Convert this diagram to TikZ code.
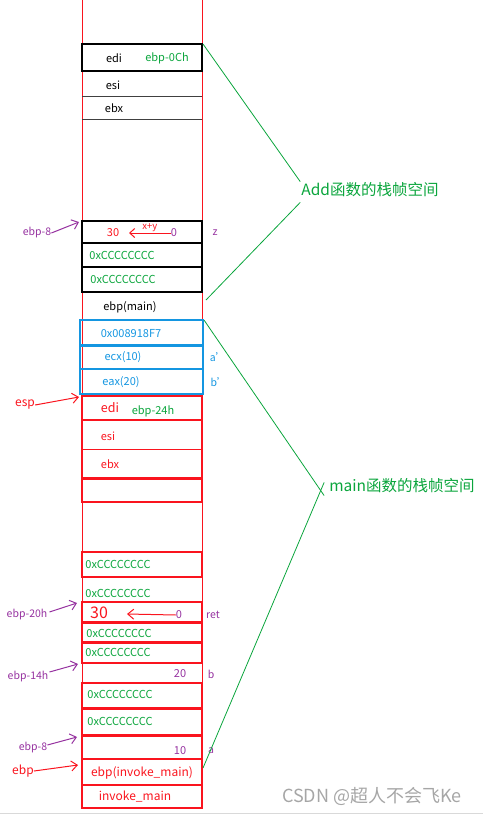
\documentclass[tikz,border=0pt]{standalone}
\usepackage{fontspec}
\setmainfont{Noto Sans CJK SC}
\usetikzlibrary{arrows.meta}
\definecolor{stkred}{RGB}{250,20,30}
\definecolor{stkgreen}{RGB}{10,165,60}
\definecolor{stkblue}{RGB}{20,150,225}
\definecolor{stkpurple}{RGB}{150,50,160}
\tikzset{
  cellblack/.style={draw=black, line width=1.3pt},
  cellred/.style={draw=stkred, line width=1.3pt},
  cellblue/.style={draw=stkblue, line width=1.3pt},
  reg/.style={font=\fontsize{11}{13}\selectfont, inner sep=0pt},
  side/.style={font=\fontsize{10.5}{12}\selectfont, inner sep=0pt, text=stkpurple},
  ptr/.style={-{Straight Barb[length=6pt,width=10pt]}, line width=1pt},
  brace/.style={stkgreen, line width=0.8pt},
  frame/.style={font=\fontsize{15.5}{18}\selectfont, text=stkgreen, inner sep=1pt},
}
\begin{document}
\begin{tikzpicture}[x=1pt,y=-1pt]
  %%%%% START %%%%%
  \useasboundingbox (0,0) rectangle (483,815);
  \def\xl{82}
  \def\xr{202}

  % stack column
  \draw[stkred, line width=1pt] (\xl,0) -- (\xl,808);
  \draw[stkred, line width=1pt] (\xr,0) -- (\xr,808);

  % Add frame
  \draw[cellblack] (\xl,44) rectangle (\xr,71);
  \draw[black!75, line width=1pt] (\xl,96) -- (\xr,96);
  \draw[black!75, line width=1pt] (\xl,119) -- (\xr,119);
  \draw[cellblack] (\xl,221) rectangle (\xr,243);
  \draw[cellblack] (\xl,243) rectangle (\xr,267);
  \draw[cellblack] (\xl,267) rectangle (\xr,292);
  \draw[stkblue, line width=1.3pt] (80,320) rectangle (203,345);
  \draw[cellblue] (80,346) rectangle (203,369);
  \draw[cellblue] (80,369) rectangle (203,394);

  % main frame
  \draw[cellred] (\xl,396) rectangle (\xr,420);
  \draw[cellred] (\xl,420) rectangle (\xr,478);
  \draw[stkred, line width=1pt] (\xl,449) -- (\xr,449);
  \draw[cellred] (\xl,479) rectangle (\xr,502);
  \draw[cellred] (\xl,552) rectangle (\xr,577);
  \draw[cellred] (\xl,602) rectangle (\xr,622);
  \draw[cellred] (\xl,623) rectangle (\xr,642);
  \draw[cellred] (\xl,643) rectangle (\xr,663);
  \draw[cellred] (\xl,683) rectangle (\xr,708);
  \draw[cellred] (\xl,709) rectangle (\xr,735);
  \draw[cellred] (\xl,736) rectangle (\xr,759);
  \draw[cellred] (\xl,759) rectangle (\xr,785);
  \draw[cellred] (\xl,785) rectangle (\xr,808);

  % cell texts
  \node[reg] (addedi) at (114,58) {edi};
  \node[reg, text=stkgreen] (addoff) at (167,58) {ebp-0Ch};
  \node[reg] (addesi) at (113,85) {esi};
  \node[reg] (addebx) at (114,108) {ebx};
  \node[reg, text=stkred] (zval) at (113,233) {30};
  \node[reg, text=stkpurple] (zzero) at (174,233) {0};
  \node[side] (zname) at (215,233) {z};
  \draw[stkred, ptr, -{Straight Barb[length=5pt,width=9pt]}] (zzero.west) -- (129,233)
    node[midway, above=0pt, font=\fontsize{9.5}{11}\selectfont, text=stkred, inner sep=1pt] (zsum) {x+y};
  \node[reg, text=stkgreen] (addcc1) at (122,255) {0xCCCCCCCC};
  \node[reg, text=stkgreen] (addcc2) at (123,279) {0xCCCCCCCC};
  \node[reg] (oldebp) at (130,307) {ebp(main)};
  \node[reg, text=stkblue] (retaddr) at (131,334) {0x008918F7};
  \node[reg, text=stkblue] (argx) at (123,357) {ecx(10)};
  \node[side, text=stkblue] (argxn) at (218,357) {a'};
  \node[reg, text=stkblue] (argy) at (121,382) {eax(20)};
  \node[side, text=stkblue] (argyn) at (219,382) {b'};
  \node[reg, font=\fontsize{12.5}{14}\selectfont, text=stkred] (mainedi) at (110,408) {edi};
  \node[reg, text=stkgreen] (mainoff) at (153,411) {ebp-24h};
  \node[reg, text=stkred] (mainesi) at (108,436) {esi};
  \node[reg, text=stkred] (mainebx) at (110,464) {ebx};
  \node[reg, text=stkgreen] (maincc1) at (118,564) {0xCCCCCCCC};
  \node[reg, text=stkgreen] (maincc2) at (118,593) {0xCCCCCCCC};
  \node[reg, font=\fontsize{16}{18}\selectfont, text=stkred] (retval) at (99,613) {30};
  \node[reg, text=stkpurple] (retzero) at (179,615) {0};
  \node[side] (retname) at (213,615) {ret};
  \draw[stkred, ptr] (retzero.west) -- (127,614);
  \node[reg, text=stkgreen] (maincc3) at (119,633) {0xCCCCCCCC};
  \node[reg, text=stkgreen] (maincc4) at (118,652) {0xCCCCCCCC};
  \node[reg, text=stkpurple] (bval) at (180,674) {20};
  \node[side] (bname) at (211,674) {b};
  \node[reg, text=stkgreen] (maincc5) at (120,694) {0xCCCCCCCC};
  \node[reg, text=stkgreen] (maincc6) at (120,721) {0xCCCCCCCC};
  \node[reg, text=stkpurple] (aval) at (180,751) {10};
  \node[side] (aname) at (211,751) {a};
  \node[reg, font=\fontsize{12}{14}\selectfont, text=stkred] (saved) at (142,773) {ebp(invoke\_main)};
  \node[reg, font=\fontsize{12}{14}\selectfont, text=stkred] (caller) at (135,797) {invoke\_main};

  % pointers on the left
  \node[side] (pz) at (37,233) {ebp-8};
  \node[reg, font=\fontsize{12}{14}\selectfont, text=stkred] (pesp) at (25,405) {esp};
  \node[side] (pret) at (27,615) {ebp-20h};
  \node[side] (pb) at (28,677) {ebp-14h};
  \node[side] (pa) at (33,748) {ebp-8};
  \node[reg, font=\fontsize{12}{14}\selectfont, text=stkred] (pebp) at (23,771) {ebp};
  \coordinate (tz) at (79,222);
  \coordinate (tesp) at (79,397);
  \coordinate (tret) at (77,603);
  \coordinate (tb) at (78,664);
  \coordinate (ta) at (77,737);
  \coordinate (tebp) at (78,765);
  \draw[ptr, stkpurple] (pz.east) -- (tz);
  \draw[ptr, stkred] (pesp.east) -- (tesp);
  \draw[ptr, stkpurple] (pret.east) ++(2,-3) -- (tret);
  \draw[ptr, stkpurple] (pb.east) ++(1,-5) -- (tb);
  \draw[ptr, stkpurple] (pa.east) ++(0,-3) -- (ta);
  \draw[ptr, stkred] (pebp.east) -- (tebp);

  % frame labels
  \node[frame] (addframe) at (370,190) {Add函数的栈帧空间};
  \node[frame] (mainframe) at (402,486) {main函数的栈帧空间};
  \coordinate (addtop) at (203,44);
  \coordinate (addbot) at (206,300);
  \coordinate (maintop) at (204,320);
  \coordinate (mainbot) at (203,768);
  \draw[brace] (addtop) -- (addframe.north west);
  \draw[brace] (addbot) -- ([yshift=-4pt]addframe.south west);
  \draw[brace] (maintop) -- ([xshift=-4pt,yshift=-18pt]mainframe.north west);
  \draw[brace] (mainbot) -- ([xshift=-4pt,yshift=12pt]mainframe.south west);

  % watermark
  \node[font=\fontsize{18}{20}\selectfont, text=black!35] (mark) at (372,796) {CSDN @超人不会飞Ke};
  \draw[black!15, line width=1pt] (0,813) -- (483,813);
  %%%%% END %%%%%
\end{tikzpicture}
\end{document}
